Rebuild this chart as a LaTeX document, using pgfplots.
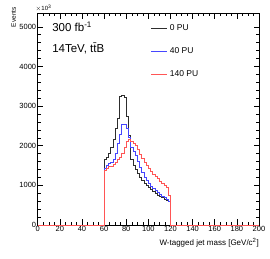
\documentclass[border=0pt]{standalone}
\usepackage{fontspec}
\setmainfont{Liberation Sans}
\usepackage{pgfplots}
\usepackage{pgfplotstable}
\pgfplotsset{compat=1.18}
\definecolor{cblack}{RGB}{45,45,45}
\definecolor{cblue}{RGB}{70,70,255}
\definecolor{cred}{RGB}{255,85,85}
\pgfplotstableread{
x black blue red
0 0 0 0
60 1650 1420 1390
62 1720 1510 1440
64 1800 1560 1470
66 1950 1590 1490
68 2150 1650 1530
70 2450 1800 1580
72 2700 2050 1650
74 3250 2300 1720
76 3270 2530 1820
78 3220 2550 1950
80 2750 2450 2100
82 2250 2200 2150
84 1650 1950 2100
86 1500 1850 2060
88 1400 1750 2000
90 1300 1600 1900
92 1200 1450 1780
94 1130 1320 1680
96 1060 1200 1580
98 1010 1120 1500
100 960 1050 1420
102 900 980 1350
104 860 920 1290
106 800 870 1230
108 760 820 1170
110 720 770 1110
112 690 730 1060
114 660 690 1010
116 620 640 950
118 590 590 750
120 0 0 0
200 0 0 0
}\hist
\begin{document}
\begin{tikzpicture}
\begin{axis}[
  at={(0pt,0pt)}, anchor=south west,
  scale only axis,
  width=221.3pt, height=211.7pt,
  xmin=0, xmax=200, ymin=0, ymax=5340,
  xtick={0,20,...,200},
  ytick={0,1000,...,5000},
  minor x tick num=3,
  minor y tick num=4,
  tick align=inside,
  major tick length=5.5pt,
  minor tick length=3pt,
  every tick/.style={black, line width=0.5pt},
  axis line style={line width=0.6pt},
  scaled y ticks=false,
  scaled x ticks=false,
  /pgf/number format/1000 sep={},
  /pgf/number format/assume math mode=true,
  ticklabel style={font=\fontsize{7.5}{8}\selectfont},
  xticklabel style={yshift=2.5pt},
  yticklabel style={xshift=2pt},
  clip=false,
]
\addplot[const plot mark left, cblack, line width=0.6pt] table[x=x,y=black] {\hist};
\addplot[const plot mark left, cblue, line width=0.6pt] table[x=x,y=blue] {\hist};
\addplot[const plot mark left, cred, line width=0.6pt] table[x=x,y=red] {\hist};
\node[anchor=base west, font=\fontsize{11.5}{12}\selectfont] at (rel axis cs:0.05,0.912) {300 fb\textsuperscript{-1}};
\node[anchor=base west, font=\fontsize{11.5}{12}\selectfont] at (rel axis cs:0.05,0.817) {14TeV, t\={t}B};
\node[anchor=base west, font=\fontsize{6}{6}\selectfont, inner sep=0pt] at (rel axis cs:-0.01,1.012) {$\times$10\textsuperscript{3}};
\node[anchor=north east, rotate=90, font=\fontsize{6.5}{6.5}\selectfont, inner sep=0pt] at (rel axis cs:-0.12,1.03) {Events};
\node[anchor=base east, font=\fontsize{8}{8}\selectfont, inner sep=0pt] at (rel axis cs:1,-0.095) {W-tagged jet mass [GeV/c\textsuperscript{2}]};
\end{axis}
\draw[color=cblack, line width=0.6pt] (113.3pt,197pt) -- (129.3pt,197pt);
\draw[color=cblue, line width=0.6pt] (113.3pt,174pt) -- (129.3pt,174pt);
\draw[color=cred, line width=0.6pt] (113.3pt,151pt) -- (129.3pt,151pt);
\node[anchor=west, inner sep=0pt, font=\fontsize{8.5}{9}\selectfont] at (132pt,197pt) {0 PU};
\node[anchor=west, inner sep=0pt, font=\fontsize{8.5}{9}\selectfont] at (132pt,174pt) {40 PU};
\node[anchor=west, inner sep=0pt, font=\fontsize{8.5}{9}\selectfont] at (132pt,151pt) {140 PU};
\pgfresetboundingbox
\path (-37.7pt,-34pt) rectangle (232.3pt,225pt);
\end{tikzpicture}
\end{document}
